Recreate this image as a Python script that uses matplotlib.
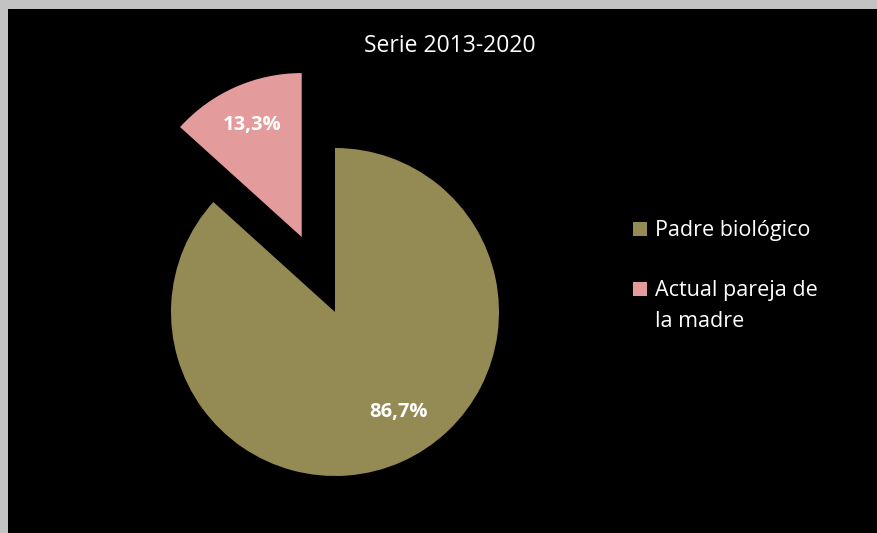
import matplotlib.pyplot as plt
from matplotlib.patches import Rectangle

# Data
labels = ['Padre biológico', 'Actual pareja de\nla madre']
values = [86.7, 13.3]
colors = ['#948A54', '#E39B9B']
title = 'Serie 2013-2020'

plt.rcParams['font.family'] = ['Open Sans', 'DejaVu Sans']

W, H = 877, 533
fig = plt.figure(figsize=(W / 100, H / 100), dpi=100, facecolor='#c3c3c3')
# black chart area, leaving the grey strip at left and top
ax = fig.add_axes([8 / W, 0, (W - 8) / W, (H - 9) / H])
ax.set_facecolor('black')

cx, cy, r = 335, H - 312, 164
wedges, texts, autotexts = ax.pie(
    values, colors=colors, startangle=90, counterclock=False,
    explode=[0, 0.5 * r], radius=r, center=(cx, cy), frame=True,
    autopct=lambda p: f'{p:.1f}%'.replace('.', ','), pctdistance=0.75,
    textprops=dict(color='white', fontsize=14.5, fontweight='bold'))
ax.set_xlim(8, W)
ax.set_ylim(0, H - 9)
ax.set_aspect('equal')
ax.axis('off')
ax.add_patch(Rectangle((8, 0), W - 8, H - 9, color='black', zorder=0))
# Excel places the big label a bit further round
autotexts[0].set_position((cx + 64, cy - 100))

fig.text(450 / W, 1 - 46 / H, title, color='white', fontsize=16.5,
         ha='center', va='center')

# legend drawn by hand, Excel-style (marker beside first line)
ys = [229, 289]
for lab, col, y in zip(labels, colors, ys):
    fig.patches.append(Rectangle((633 / W, 1 - (y + 7) / H), 14 / W, 14 / H,
                                 facecolor=col, transform=fig.transFigure))
    fig.text(655 / W, 1 - (y - 9) / H, lab, color='white', fontsize=15.5,
             ha='left', va='top', linespacing=1.6)

fig.savefig('out.png', dpi=100, facecolor=fig.get_facecolor())
